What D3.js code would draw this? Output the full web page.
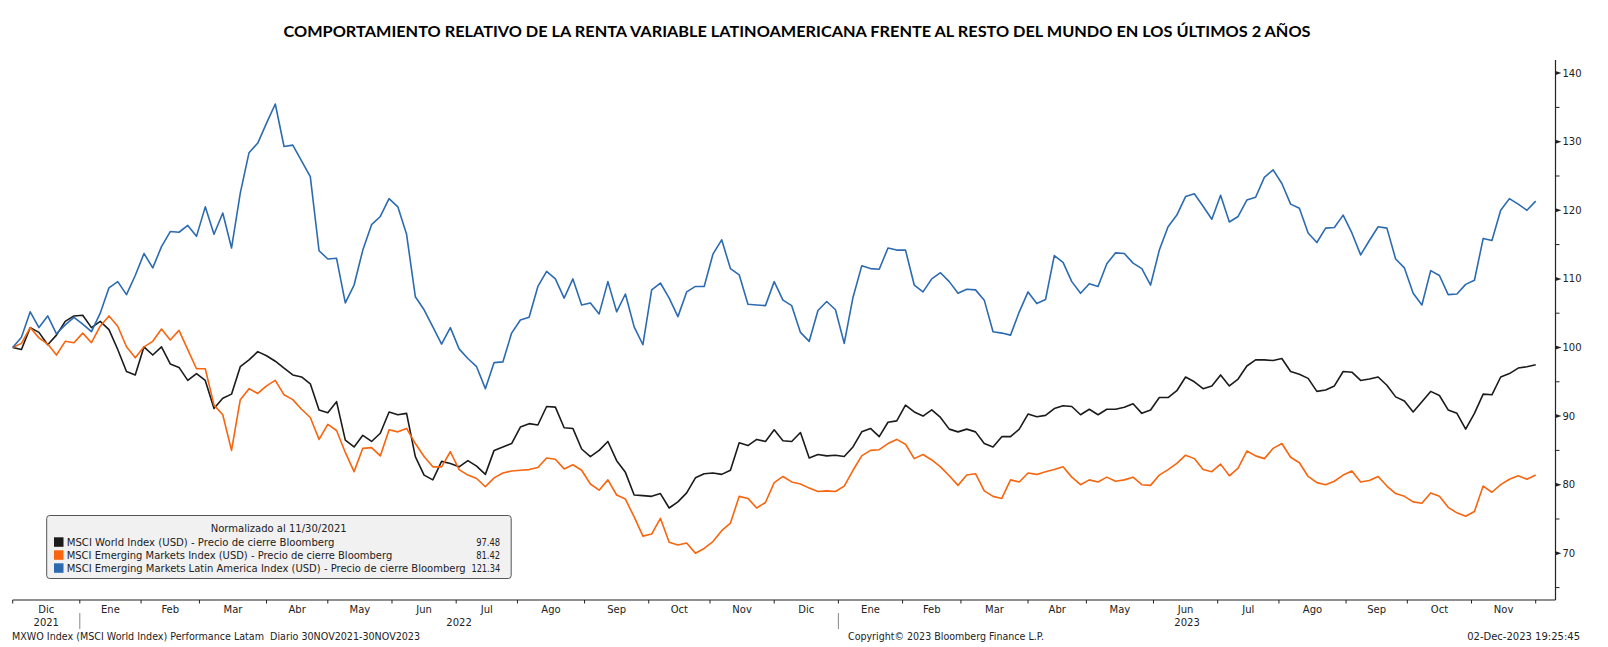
<!DOCTYPE html>
<html>
<head>
<meta charset="utf-8">
<script src="https://cdn.jsdelivr.net/npm/d3@7"></script>
<style>
  body { margin: 0; background: #fff; }
  svg { display: block; }
</style>
</head>
<body>
<script>
// readings taken every 3rd trading day, 30NOV2021 -> 30NOV2023
const startDate = "2021-11-30";
const endDate = "2023-11-30";
const sampleStep = 3;

const monthNames = ["Ene", "Feb", "Mar", "Abr", "May", "Jun", "Jul", "Ago", "Sep", "Oct", "Nov", "Dic"];
const yMajorTicks = [70, 80, 90, 100, 110, 120, 130, 140];
const yMinorTicks = [65, 75, 85, 95, 105, 115, 125, 135];

const seriesNames = [
  "MSCI World Index (USD) - Precio de cierre Bloomberg",
  "MSCI Emerging Markets Index (USD) - Precio de cierre Bloomberg",
  "MSCI Emerging Markets Latin America Index (USD) - Precio de cierre Bloomberg"
];
const lastValues = ["97.48", "81.42", "121.34"];
const seriesColors = ["#1b1b1b", "#f7650f", "#2c6bb1"];

const world = [
  100.0, 99.7, 102.9, 102.2, 100.4, 101.8, 103.8, 104.6, 104.7, 102.9,
  103.8, 102.6, 99.7, 96.5, 96.0, 100.1, 98.9, 100.1, 97.6, 97.1,
  95.2, 96.2, 95.2, 91.1, 92.6, 93.2, 97.2, 98.2, 99.4, 98.8,
  98.0, 97.0, 96.0, 95.7, 94.7, 90.9, 90.5, 92.1, 86.5, 85.5,
  87.2, 86.3, 87.5, 90.6, 90.2, 90.4, 84.1, 81.4, 80.7, 83.4,
  83.1, 82.6, 83.5, 82.7, 81.5, 85.0, 85.5, 86.0, 88.4, 88.9,
  88.7, 91.4, 91.3, 88.3, 88.2, 85.2, 84.1, 85.0, 86.3, 83.5,
  81.8, 78.5, 78.4, 78.3, 78.7, 76.6, 77.5, 78.8, 81.0, 81.6,
  81.7, 81.5, 82.1, 86.1, 85.7, 86.6, 86.3, 88.0, 86.4, 86.3,
  87.6, 83.9, 84.4, 84.2, 84.3, 84.1, 85.5, 87.7, 88.2, 87.0,
  89.1, 89.3, 91.6, 90.6, 90.0, 90.9, 89.8, 88.1, 87.7, 88.1,
  87.7, 86.0, 85.5, 87.0, 87.0, 88.1, 90.3, 89.9, 90.1, 91.1,
  91.5, 91.4, 90.2, 91.0, 90.2, 91.0, 91.0, 91.3, 91.8, 90.4,
  90.9, 92.7, 92.7, 93.7, 95.7, 95.0, 94.0, 94.4, 96.0, 94.4,
  95.4, 97.3, 98.2, 98.2, 98.1, 98.4, 96.5, 96.1, 95.5, 93.6,
  93.8, 94.4, 96.5, 96.4, 95.2, 95.4, 95.7, 94.5, 92.8, 92.2,
  90.6, 92.1, 93.6, 93.0, 90.9, 90.4, 88.1, 90.4, 93.2, 93.1,
  95.7, 96.2, 97.0, 97.2, 97.48
];

const emerging = [
  100.0, 100.6, 102.9, 101.4, 100.5, 98.9, 100.9, 100.7, 102.1, 100.7,
  103.1, 104.6, 103.1, 100.1, 98.5, 100.1, 100.9, 102.7, 101.1, 102.5,
  99.7, 96.9, 96.9, 91.6, 90.2, 85.0, 92.4, 94.0, 93.3, 94.4,
  95.2, 93.1, 92.4, 91.0, 89.8, 86.6, 88.8, 87.9, 84.7, 81.9,
  85.3, 85.4, 84.2, 88.0, 87.7, 88.2, 86.0, 84.1, 82.6, 82.6,
  84.8, 82.2, 81.4, 80.9, 79.7, 81.0, 81.7, 82.0, 82.1, 82.2,
  82.5, 83.9, 83.7, 82.3, 82.9, 82.1, 80.1, 79.2, 80.7, 78.5,
  77.9, 75.3, 72.5, 72.8, 75.1, 71.6, 71.2, 71.5, 70.0, 70.7,
  71.7, 73.3, 74.4, 78.3, 78.0, 76.6, 77.4, 80.3, 81.2, 80.4,
  80.1, 79.5, 79.0, 79.1, 79.0, 79.8, 82.1, 84.2, 85.0, 85.1,
  86.0, 86.6, 85.9, 83.8, 84.4, 83.6, 82.6, 81.3, 79.9, 81.4,
  81.6, 79.1, 78.3, 78.0, 80.7, 80.4, 81.7, 81.5, 81.9, 82.2,
  82.6, 81.1, 80.0, 80.7, 80.4, 81.1, 80.5, 80.7, 81.1, 80.0,
  79.9, 81.4, 82.2, 83.1, 84.3, 83.8, 82.2, 81.9, 83.0, 81.3,
  82.4, 84.9, 84.2, 83.8, 85.3, 86.0, 84.0, 83.2, 81.2, 80.3,
  80.0, 80.5, 81.4, 82.0, 80.4, 80.6, 81.2, 79.8, 78.7, 78.3,
  77.5, 77.3, 78.8, 78.3, 76.7, 75.9, 75.4, 76.1, 79.8, 78.9,
  80.0, 80.8, 81.3, 80.8, 81.42
];

const latam = [
  100.0, 101.5, 105.2, 102.9, 104.6, 102.0, 103.3, 104.4, 103.4, 102.3,
  105.0, 108.7, 109.6, 107.7, 110.5, 113.7, 111.6, 114.7, 116.9, 116.8,
  117.8, 116.2, 120.5, 116.5, 119.6, 114.5, 122.5, 128.4, 129.8, 132.7,
  135.5, 129.3, 129.5, 127.2, 124.9, 114.1, 112.9, 113.0, 106.5, 109.1,
  114.2, 117.9, 119.1, 121.7, 120.5, 116.5, 107.4, 105.5, 103.0, 100.5,
  102.9, 99.8, 98.4, 97.2, 94.0, 97.8, 97.9, 102.1, 104.0, 104.4,
  108.9, 111.1, 110.0, 107.2, 110.0, 106.2, 106.5, 104.9, 109.6, 105.2,
  107.8, 103.0, 100.4, 108.4, 109.4, 107.2, 104.5, 108.1, 108.9, 108.9,
  113.6, 115.7, 111.5, 110.6, 106.3, 106.2, 106.1, 109.6, 106.9, 106.1,
  102.2, 100.9, 105.4, 106.7, 105.5, 100.6, 107.3, 111.9, 111.5, 111.4,
  114.5, 114.2, 114.2, 109.1, 108.1, 110.0, 110.9, 109.6, 107.9, 108.5,
  108.4, 106.9, 102.3, 102.1, 101.8, 105.2, 108.1, 106.4, 107.0, 113.4,
  112.4, 109.6, 107.9, 109.3, 108.9, 112.2, 113.8, 113.7, 112.3, 111.5,
  109.1, 114.2, 117.6, 119.3, 122.0, 122.4, 120.6, 118.7, 122.2, 118.3,
  119.1, 121.5, 121.9, 124.8, 125.9, 123.9, 120.9, 120.3, 116.7, 115.3,
  117.4, 117.5, 119.3, 116.7, 113.5, 115.6, 117.6, 117.4, 112.9, 111.6,
  107.9, 106.2, 111.2, 110.5, 107.7, 107.8, 109.2, 109.8, 115.9, 115.6,
  120.0, 121.7, 120.9, 120.0, 121.34
];

const width = 1608, height = 647;
const plotLeft = 12.7, plotRight = 1555.5, plotTop = 60, plotBottom = 600;
const labelFont = "'DejaVu Sans', Verdana, sans-serif";

const svg = d3.select("body").append("svg")
    .attr("width", width)
    .attr("height", height)
    .attr("font-family", labelFont);

// trading-day axis (weekdays only, like the terminal chart)
const parseDay = d3.utcParse("%Y-%m-%d");
const days = d3.utcDay.range(parseDay(startDate), d3.utcDay.offset(parseDay(endDate), 1))
    .filter(d => d.getUTCDay() % 6 !== 0);

const x = d3.scaleLinear()
    .domain([0, days.length - 1])
    .range([plotLeft, 1535.7]);

const y = d3.scaleLinear()
    .domain([63.19, 141.91])
    .range([plotBottom, plotTop]);

// title
svg.append("text")
    .attr("x", 797)
    .attr("y", 37)
    .attr("text-anchor", "middle")
    .attr("font-family", "Lato, 'Open Sans', sans-serif")
    .attr("font-weight", 700)
    .attr("font-size", 16)
    .attr("textLength", 1027)
    .attr("lengthAdjust", "spacingAndGlyphs")
    .text("COMPORTAMIENTO RELATIVO DE LA RENTA VARIABLE LATINOAMERICANA FRENTE AL RESTO DEL MUNDO EN LOS ÚLTIMOS 2 AÑOS");

// month boundaries: tick sits on the last day of the previous month
let bounds = [];
for (let i = 1; i < days.length; i++) {
  if (days[i].getUTCMonth() !== days[i - 1].getUTCMonth()) bounds.push(i - 1);
}
bounds.push(days.length - 1);

const months = bounds.slice(0, -1).map((b, j) => {
  const d = days[b + 1];
  return { name: monthNames[d.getUTCMonth()], year: d.getUTCFullYear(), x0: x(b), x1: x(bounds[j + 1]) };
});

const xAxis = svg.append("g");
xAxis.append("line")
    .attr("x1", plotLeft).attr("x2", plotRight)
    .attr("y1", plotBottom).attr("y2", plotBottom)
    .attr("stroke", "#222").attr("stroke-width", 1.2);

xAxis.selectAll(".mtick")
  .data(bounds)
  .join("line")
    .attr("x1", d => x(d)).attr("x2", d => x(d))
    .attr("y1", plotBottom).attr("y2", plotBottom + 3.5)
    .attr("stroke", "#222");

xAxis.selectAll(".mlabel")
  .data(months)
  .join("text")
    .attr("x", d => (d.x0 + d.x1) / 2)
    .attr("y", 612.5)
    .attr("text-anchor", "middle")
    .attr("font-size", 10)
    .attr("fill", "#222")
    .text(d => d.name);

const years = d3.groups(months, d => d.year).map(([yr, ms]) => ({
  year: yr, x0: ms[0].x0, x1: ms[ms.length - 1].x1
}));

xAxis.selectAll(".ylabel")
  .data(years)
  .join("text")
    .attr("x", d => (d.x0 + d.x1) / 2)
    .attr("y", 626)
    .attr("text-anchor", "middle")
    .attr("font-size", 10)
    .attr("fill", "#222")
    .text(d => d.year);

xAxis.selectAll(".ysep")
  .data(years.slice(1))
  .join("line")
    .attr("x1", d => d.x0).attr("x2", d => d.x0)
    .attr("y1", 613).attr("y2", 629)
    .attr("stroke", "#888");

// right value axis
const yAxis = svg.append("g");
yAxis.append("line")
    .attr("x1", plotRight).attr("x2", plotRight)
    .attr("y1", plotTop).attr("y2", plotBottom)
    .attr("stroke", "#222").attr("stroke-width", 1.2);

yAxis.selectAll(".minor")
  .data(yMinorTicks)
  .join("line")
    .attr("x1", plotRight).attr("x2", plotRight + 4)
    .attr("y1", d => y(d)).attr("y2", d => y(d))
    .attr("stroke", "#222");

yAxis.selectAll(".major")
  .data(yMajorTicks)
  .join("path")
    .attr("d", d => `M${plotRight},${y(d) - 2}L${plotRight + 6},${y(d)}L${plotRight},${y(d) + 2}Z`)
    .attr("fill", "#222");

yAxis.selectAll(".ylab")
  .data(yMajorTicks)
  .join("text")
    .attr("x", plotRight + 7)
    .attr("y", d => y(d))
    .attr("dy", "0.35em")
    .attr("font-size", 10)
    .attr("fill", "#222")
    .text(d => d);

// series
const line = d3.line()
    .x((d, k) => x(k * sampleStep))
    .y(d => y(d));

const seriesData = [world, emerging, latam];
svg.append("g")
    .attr("fill", "none")
    .attr("stroke-width", 1.6)
    .attr("stroke-linejoin", "round")
  .selectAll("path")
  .data(seriesData)
  .join("path")
    .attr("stroke", (d, i) => seriesColors[i])
    .attr("d", line);

// legend box
const legend = svg.append("g").attr("transform", "translate(46.7,515.5)");
legend.append("rect")
    .attr("width", 464.5)
    .attr("height", 63)
    .attr("rx", 3)
    .attr("fill", "#f1f1f1")
    .attr("stroke", "#555");

legend.append("text")
    .attr("x", 232)
    .attr("y", 13)
    .attr("dy", "0.35em")
    .attr("text-anchor", "middle")
    .attr("font-size", 10)
    .attr("fill", "#222")
    .attr("textLength", 136)
    .attr("lengthAdjust", "spacingAndGlyphs")
    .text("Normalizado al 11/30/2021");

const rows = legend.selectAll(".row")
  .data(seriesNames)
  .join("g")
    .attr("transform", (d, i) => `translate(0,${26.5 + i * 13})`);

rows.append("rect")
    .attr("x", 7.3)
    .attr("y", -4.7)
    .attr("width", 9.5)
    .attr("height", 9.5)
    .attr("fill", (d, i) => seriesColors[i]);

rows.append("text")
    .attr("x", 20)
    .attr("dy", "0.35em")
    .attr("font-size", 10)
    .attr("fill", "#222")
    .attr("textLength", d => d.length * 5.25)
    .attr("lengthAdjust", "spacingAndGlyphs")
    .text(d => d);

rows.append("text")
    .attr("x", 453.5)
    .attr("dy", "0.35em")
    .attr("text-anchor", "end")
    .attr("font-size", 10)
    .attr("fill", "#222")
    .attr("textLength", (d, i) => lastValues[i].length * 4.8)
    .attr("lengthAdjust", "spacingAndGlyphs")
    .text((d, i) => lastValues[i]);

// footer
const footer = svg.append("g").attr("font-size", 10).attr("fill", "#222");
footer.append("text")
    .attr("x", 12).attr("y", 640)
    .style("white-space", "pre")
    .attr("textLength", 408).attr("lengthAdjust", "spacingAndGlyphs")
    .text("MXWO Index (MSCI World Index) Performance Latam  Diario 30NOV2021-30NOV2023");
footer.append("text")
    .attr("x", 848).attr("y", 640)
    .attr("textLength", 196).attr("lengthAdjust", "spacingAndGlyphs")
    .text("Copyright© 2023 Bloomberg Finance L.P.");
footer.append("text")
    .attr("x", 1580).attr("y", 640)
    .attr("text-anchor", "end")
    .text("02-Dec-2023 19:25:45");
</script>
</body>
</html>
